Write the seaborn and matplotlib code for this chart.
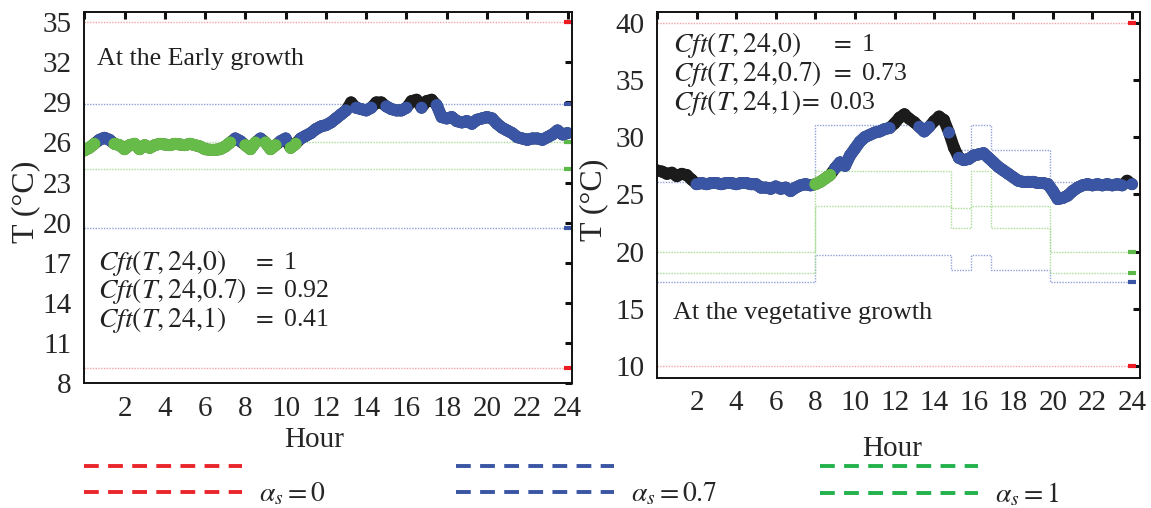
import numpy as np
import pandas as pd
import seaborn as sns
import matplotlib.pyplot as plt
from matplotlib.lines import Line2D

# hourly grid of the logger (every 15 min)
hours = np.arange(0, 24.01, 0.25)

# measured temperature, early growth
temp_early = [25.4, 25.6, 25.9, 26.2, 26.35, 26.2, 25.9, 25.8, 25.5, 25.8, 25.9, 25.5,
              25.8, 25.6, 25.8, 25.9, 25.85, 25.8, 25.9, 25.85, 25.8, 25.9, 25.8, 25.7,
              25.5, 25.45, 25.45, 25.5, 25.7, 26.0, 26.3, 26.1, 25.8, 25.5, 26.0, 26.3,
              26.0, 25.5, 25.8, 26.1, 26.3, 25.6, 25.9, 26.3, 26.5, 26.7, 27.0, 27.2,
              27.3, 27.5, 27.8, 28.1, 28.4, 29.0, 28.6, 28.5, 28.4, 28.6, 29.0, 29.0,
              28.7, 28.5, 28.4, 28.4, 28.6, 29.1, 29.2, 28.6, 29.1, 29.2, 28.8, 27.9,
              27.8, 27.9, 27.6, 27.5, 27.6, 27.4, 27.7, 27.8, 27.9, 27.8, 27.4, 27.1,
              26.9, 26.7, 26.4, 26.3, 26.2, 26.3, 26.3, 26.2, 26.4, 26.6, 26.9, 26.6, 26.7]

# measured temperature, vegetative growth
temp_veg = [27.1, 27.0, 26.8, 26.9, 26.6, 26.8, 26.7, 26.3, 25.9, 26.0, 25.9, 26.0,
            26.0, 25.9, 26.0, 26.0, 25.9, 26.0, 26.0, 25.9, 25.9, 25.6, 25.6, 25.5,
            25.7, 25.5, 25.6, 25.3, 25.6, 25.8, 25.9, 25.8, 25.9, 26.1, 26.4, 26.7,
            27.3, 27.8, 27.5, 28.4, 29.0, 29.6, 30.0, 30.2, 30.4, 30.5, 30.7, 30.8,
            31.2, 31.7, 32.0, 31.6, 31.3, 30.9, 30.5, 30.9, 31.4, 31.8, 31.5, 30.4,
            29.1, 28.2, 28.0, 28.1, 28.4, 28.5, 28.6, 28.2, 27.8, 27.4, 27.1, 26.8,
            26.5, 26.2, 26.1, 26.1, 26.1, 26.0, 26.0, 25.9, 25.3, 24.6, 24.7, 24.9,
            25.3, 25.6, 25.8, 25.9, 25.8, 25.9, 25.8, 25.9, 25.8, 25.9, 25.8, 26.2, 25.9]

# comfort bounds (alpha_s = 0 / 0.7 / 1)
early_steps = [0, 24]
early_red = ([9.1, 9.1], [35.0, 35.0])
early_blue = ([19.6, 19.6], [28.85, 28.85])
early_green = ([24.05, 24.05], [26.05, 26.05])

veg_steps = [0, 8, 14.85, 15.85, 16.9, 19.85, 24]
veg_red = ([10.0] * 7, [40.0] * 7)
veg_blue = ([17.4, 19.75, 18.4, 19.75, 18.4, 17.4, 17.4],
            [26.1, 31.05, 28.9, 31.05, 28.9, 26.1, 26.1])
veg_green = ([18.15, 24.0, 23.85, 24.0, 24.0, 18.15, 18.15],
             [20.0, 27.05, 22.1, 27.05, 22.1, 20.0, 20.0])

early_cft = ['1', '0.92', '0.41']
veg_cft = ['1', '0.73', '0.03']

RED, BLUE, GREEN = '#e8262b', '#3a55a4', '#22b14c'
LINE_COL = {'red': '#f3a3a3', 'blue': '#8fa3d9', 'green': '#a9dc99'}
MARK_COL = {'red': '#ed1c24', 'blue': '#3a55a4', 'green': '#5cb848'}
PT_COL = {'out': '#1b1b1b', 'mid': '#3a55a4', 'in': '#67bb48'}


def classify(temps, steps, blue, green):
    idx = np.clip(np.searchsorted(steps, hours, side='right') - 1, 0, len(steps) - 1)
    t = np.asarray(temps)
    blo, bhi = np.asarray(blue[0])[idx], np.asarray(blue[1])[idx]
    glo, ghi = np.asarray(green[0])[idx], np.asarray(green[1])[idx]
    band = np.where((t >= glo) & (t <= ghi), 'in',
                    np.where((t >= blo) & (t <= bhi), 'mid', 'out'))
    return pd.DataFrame({'hour': hours, 'temp': t, 'band': band})


def draw_panel(ax, temps, steps, bounds, ylim, yticks):
    for name, (lo, hi) in zip(['red', 'blue', 'green'], bounds):
        for vals in (lo, hi):
            sns.lineplot(x=steps, y=vals, drawstyle='steps-post', color=LINE_COL[name],
                         lw=1.0, linestyle=(0, (1, 1)), ax=ax, zorder=1)
            ax.plot([steps[-1]], [vals[-1]], marker='_', ms=6, mew=3,
                    color=MARK_COL[name], zorder=2)
    df = classify(temps, steps, bounds[1], bounds[2])
    # thick trace: black underneath, coloured runs on top
    ax.plot(df['hour'], df['temp'], color=PT_COL['out'], lw=8.5,
            solid_capstyle='round', solid_joinstyle='round', zorder=3)
    for b, z in (('mid', 4), ('in', 5)):
        y = df['temp'].where(df['band'] == b)
        ax.plot(df['hour'], y, color=PT_COL[b], lw=8.5,
                solid_capstyle='round', solid_joinstyle='round', zorder=z)
    df['order'] = df['band'].map({'out': 0, 'mid': 1, 'in': 2})
    df = df.sort_values('order', kind='stable')
    sns.scatterplot(data=df, x='hour', y='temp', hue='band', palette=PT_COL,
                    s=75, linewidth=0, legend=False, ax=ax, zorder=6)
    ax.set_xlim(0, 24.2)
    ax.set_ylim(*ylim)
    ax.set_xticks(np.arange(0, 25, 2))
    ax.set_xticklabels([''] + [str(v) for v in range(2, 25, 2)])
    ax.set_yticks(yticks)
    ax.tick_params(direction='in', length=5, width=2.2, top=True, right=True,
                   labelsize=21, pad=9, color='#111111')
    for sp in ax.spines.values():
        sp.set_color('#111111')
        sp.set_linewidth(1.4)
        sp.set_zorder(7)
    ax.set_xlabel('Hour', fontsize=21)
    ax.set_ylabel('T (°C)', fontsize=23)


sns.set_theme(style='white')
plt.rcParams['font.family'] = ['Liberation Serif', 'DejaVu Serif']
plt.rcParams['mathtext.fontset'] = 'stix'

fig = plt.figure(figsize=(11.51, 5.08), dpi=100)
ax1 = fig.add_axes([0.0732, 0.246, 0.4234, 0.730])
ax2 = fig.add_axes([0.5708, 0.256, 0.4196, 0.720])

draw_panel(ax1, temp_early, early_steps, [early_red, early_blue, early_green],
           (8, 35.75), [8, 11, 14, 17, 20, 23, 26, 29, 32, 35])
draw_panel(ax2, temp_veg, veg_steps, [veg_red, veg_blue, veg_green],
           (9.0, 40.9), [10, 15, 20, 25, 30, 35, 40])
ax2.set_xlim(0, 24.4)

ax1.xaxis.set_label_coords(0.471, -0.118)
ax2.xaxis.set_label_coords(0.487, -0.160)
ax1.yaxis.set_label_coords(-0.09, 0.49)
ax2.yaxis.set_label_coords(-0.10, 0.486)

txt = dict(va='center', color='#222222')
ax1.text(0.026, 0.873, 'At the Early growth', transform=ax1.transAxes, fontsize=18.7, **txt)
lhs = [r'$Cft(T,24{,}0)$', r'$Cft(T,24{,}0.7)$', r'$Cft(T,24{,}1)$']
for i, (l, v) in enumerate(zip(lhs, early_cft)):
    y = 0.324 - i * 0.077
    ax1.text(0.028, y, l, transform=ax1.transAxes, fontsize=20, **txt)
    ax1.text(0.344, y, r'$=$ ' + v, transform=ax1.transAxes, fontsize=18.5, **txt)

ax2.text(0.034, 0.178, 'At the vegetative growth', transform=ax2.transAxes,
         fontsize=18.8, **txt)
for i, (l, v) in enumerate(zip(lhs, veg_cft)):
    y = 0.910 - i * 0.079
    xe = 0.292 if i == 2 else 0.358
    ax2.text(0.034, y, l, transform=ax2.transAxes, fontsize=20, **txt)
    ax2.text(xe, y, r'$=$ ' + v, transform=ax2.transAxes, fontsize=18.5, **txt)

# legend: two dashed rows per alpha
labels = [r'$\alpha_s = 0$', r'$\alpha_s = 0.7$', r'$\alpha_s = 1$']
for col, lab, x0 in zip([RED, BLUE, GREEN], labels, [0.073, 0.396, 0.712]):
    h = Line2D([], [], color=col, lw=2.8, linestyle=(0, (3.8, 2.4)))
    fig.legend(handles=[h, h], labels=['', lab], loc='upper left',
               bbox_to_anchor=(x0, 0.102), frameon=False, fontsize=20,
               handlelength=5.7, handletextpad=0.6, borderpad=0,
               borderaxespad=0, labelspacing=-0.03)

fig.savefig('out.png', dpi=100)
